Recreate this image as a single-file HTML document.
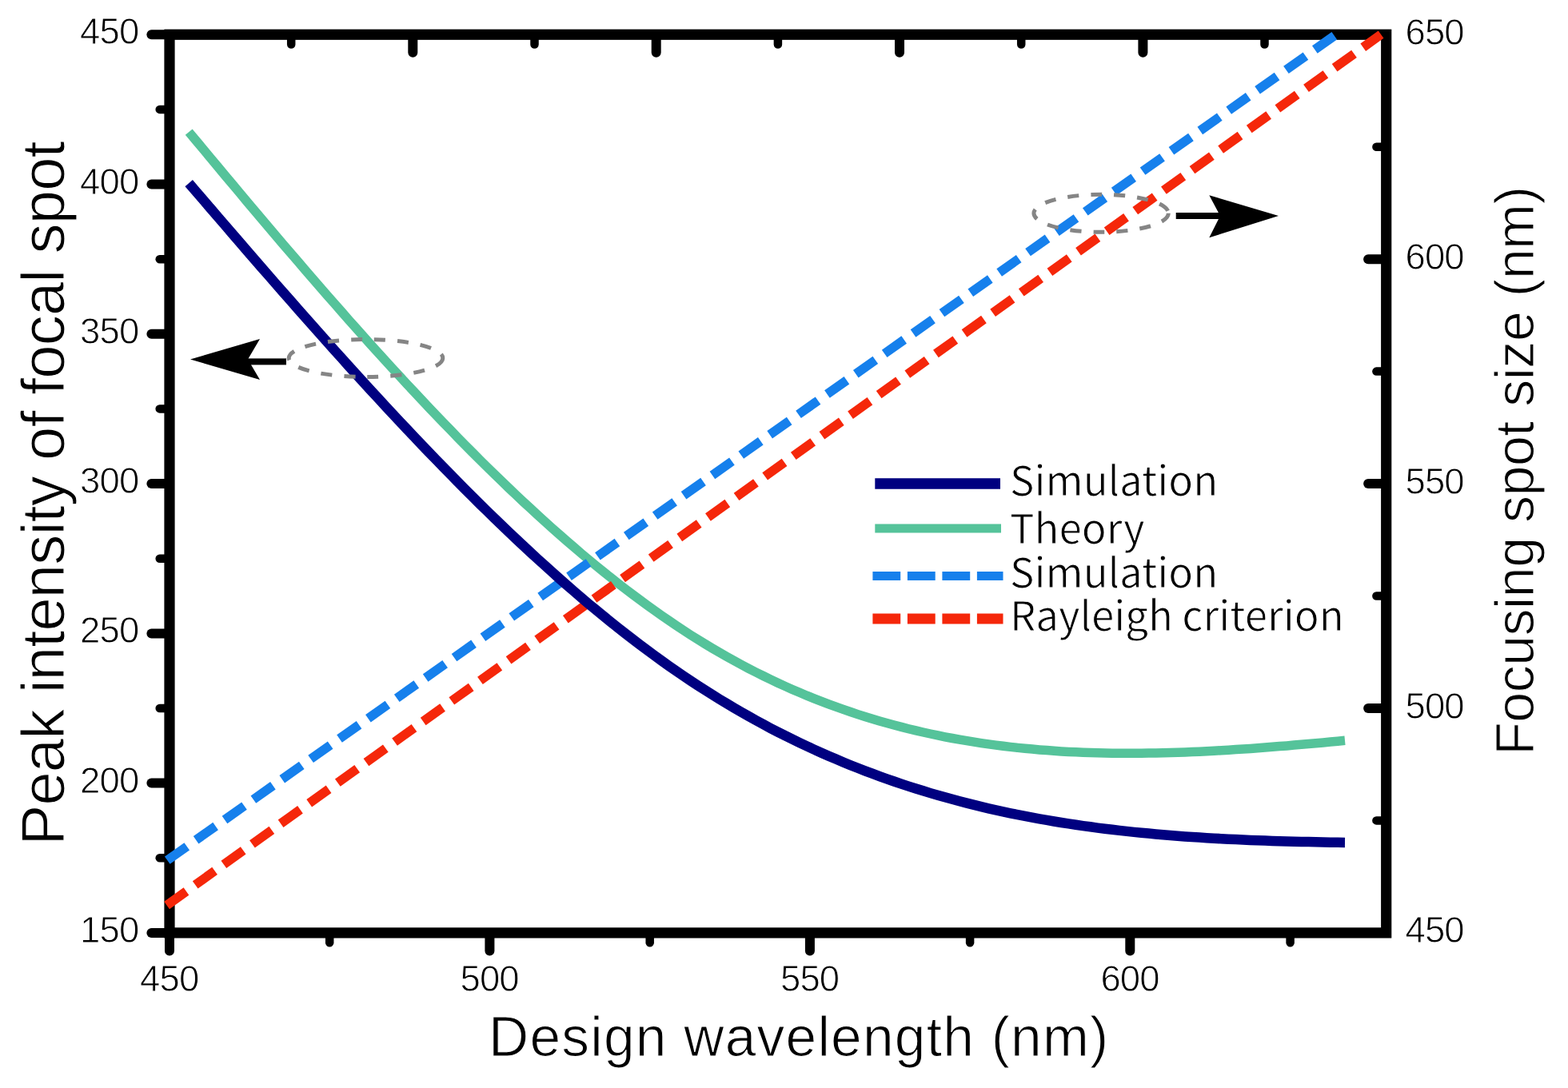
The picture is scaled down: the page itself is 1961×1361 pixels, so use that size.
<!DOCTYPE html>
<html><head><meta charset="utf-8"><style>
html,body{margin:0;padding:0;background:#fff;}
body{width:1961px;height:1361px;overflow:hidden;position:relative;}
svg{position:absolute;left:0;top:0;}
.t{font-family:"Liberation Sans",Arial,sans-serif;fill:#000;}
.ti{stroke:#fff;stroke-width:1.1px;}
.tl{stroke:#fff;stroke-width:0.9px;}
</style></head><body>
<svg width="1961" height="1361" viewBox="0 0 1961 1361">
<rect width="1961" height="1361" fill="#fff"/>
<!-- arrows -->
<g fill="#000">
<rect x="309" y="448.4" width="49" height="8"/>
<polygon points="238,449.5 325,424 310,449.5 325,475"/>
<rect x="1470.7" y="266" width="56" height="8"/>
<polygon points="1599,270 1512.3,244.3 1526,270 1512.3,297.2"/>
</g>
<!-- axes -->
<g stroke="#000" fill="none">
<rect x="212.0" y="43.25" width="1521.7" height="1123.65" stroke-width="13.2"/>
<line x1="212.0" y1="1172.5" x2="212.0" y2="1189.5" stroke-width="12" stroke-linecap="round"/><line x1="412.2" y1="1172.5" x2="412.2" y2="1179.2" stroke-width="10.5" stroke-linecap="round"/><line x1="612.4" y1="1172.5" x2="612.4" y2="1189.5" stroke-width="12" stroke-linecap="round"/><line x1="812.7" y1="1172.5" x2="812.7" y2="1179.2" stroke-width="10.5" stroke-linecap="round"/><line x1="1012.9" y1="1172.5" x2="1012.9" y2="1189.5" stroke-width="12" stroke-linecap="round"/><line x1="1213.1" y1="1172.5" x2="1213.1" y2="1179.2" stroke-width="10.5" stroke-linecap="round"/><line x1="1413.3" y1="1172.5" x2="1413.3" y2="1189.5" stroke-width="12" stroke-linecap="round"/><line x1="1613.6" y1="1172.5" x2="1613.6" y2="1179.2" stroke-width="10.5" stroke-linecap="round"/><line x1="364.2" y1="48.9" x2="364.2" y2="55.6" stroke-width="10.5" stroke-linecap="round"/><line x1="516.3" y1="48.9" x2="516.3" y2="65.8" stroke-width="12" stroke-linecap="round"/><line x1="668.5" y1="48.9" x2="668.5" y2="55.6" stroke-width="10.5" stroke-linecap="round"/><line x1="820.7" y1="48.9" x2="820.7" y2="65.8" stroke-width="12" stroke-linecap="round"/><line x1="972.9" y1="48.9" x2="972.9" y2="55.6" stroke-width="10.5" stroke-linecap="round"/><line x1="1125.0" y1="48.9" x2="1125.0" y2="65.8" stroke-width="12" stroke-linecap="round"/><line x1="1277.2" y1="48.9" x2="1277.2" y2="55.6" stroke-width="10.5" stroke-linecap="round"/><line x1="1429.4" y1="48.9" x2="1429.4" y2="65.8" stroke-width="12" stroke-linecap="round"/><line x1="1581.5" y1="48.9" x2="1581.5" y2="55.6" stroke-width="10.5" stroke-linecap="round"/><line x1="206.4" y1="43.2" x2="189.4" y2="43.2" stroke-width="12" stroke-linecap="round"/><line x1="206.4" y1="136.9" x2="199.7" y2="136.9" stroke-width="10.5" stroke-linecap="round"/><line x1="206.4" y1="230.5" x2="189.4" y2="230.5" stroke-width="12" stroke-linecap="round"/><line x1="206.4" y1="324.2" x2="199.7" y2="324.2" stroke-width="10.5" stroke-linecap="round"/><line x1="206.4" y1="417.8" x2="189.4" y2="417.8" stroke-width="12" stroke-linecap="round"/><line x1="206.4" y1="511.4" x2="199.7" y2="511.4" stroke-width="10.5" stroke-linecap="round"/><line x1="206.4" y1="605.1" x2="189.4" y2="605.1" stroke-width="12" stroke-linecap="round"/><line x1="206.4" y1="698.7" x2="199.7" y2="698.7" stroke-width="10.5" stroke-linecap="round"/><line x1="206.4" y1="792.4" x2="189.4" y2="792.4" stroke-width="12" stroke-linecap="round"/><line x1="206.4" y1="886.0" x2="199.7" y2="886.0" stroke-width="10.5" stroke-linecap="round"/><line x1="206.4" y1="979.6" x2="189.4" y2="979.6" stroke-width="12" stroke-linecap="round"/><line x1="206.4" y1="1073.3" x2="199.7" y2="1073.3" stroke-width="10.5" stroke-linecap="round"/><line x1="206.4" y1="1166.9" x2="189.4" y2="1166.9" stroke-width="12" stroke-linecap="round"/><line x1="1728.1" y1="183.7" x2="1721.4" y2="183.7" stroke-width="10.5" stroke-linecap="round"/><line x1="1728.1" y1="324.2" x2="1711.1" y2="324.2" stroke-width="12" stroke-linecap="round"/><line x1="1728.1" y1="464.6" x2="1721.4" y2="464.6" stroke-width="10.5" stroke-linecap="round"/><line x1="1728.1" y1="605.1" x2="1711.1" y2="605.1" stroke-width="12" stroke-linecap="round"/><line x1="1728.1" y1="745.5" x2="1721.4" y2="745.5" stroke-width="10.5" stroke-linecap="round"/><line x1="1728.1" y1="886.0" x2="1711.1" y2="886.0" stroke-width="12" stroke-linecap="round"/><line x1="1728.1" y1="1026.4" x2="1721.4" y2="1026.4" stroke-width="10.5" stroke-linecap="round"/>
</g>
<!-- data -->
<path d="M236.2,165.1 L245.3,176.0 L254.4,186.9 L263.5,197.9 L272.6,208.8 L281.7,219.7 L290.8,230.5 L299.9,241.4 L308.9,252.2 L318.0,263.0 L327.1,273.8 L336.2,284.5 L345.3,295.2 L354.4,305.9 L363.5,316.5 L372.6,327.1 L381.7,337.7 L390.8,348.2 L399.9,358.7 L409.0,369.2 L418.1,379.5 L427.2,389.9 L436.2,400.2 L445.3,410.4 L454.4,420.6 L463.5,430.8 L472.6,440.9 L481.7,450.9 L490.8,460.8 L499.9,470.7 L509.0,480.6 L518.1,490.3 L527.2,500.0 L536.3,509.7 L545.4,519.2 L554.5,528.7 L563.6,538.1 L572.6,547.4 L581.7,556.7 L590.8,565.9 L599.9,575.0 L609.0,584.0 L618.1,592.9 L627.2,601.7 L636.3,610.5 L645.4,619.1 L654.5,627.7 L663.6,636.1 L672.7,644.5 L681.8,652.7 L690.9,660.9 L699.9,668.9 L709.0,676.9 L718.1,684.7 L727.2,692.5 L736.3,700.1 L745.4,707.6 L754.5,715.0 L763.6,722.3 L772.7,729.5 L781.8,736.5 L790.9,743.4 L800.0,750.2 L809.1,756.9 L818.2,763.4 L827.3,769.9 L836.3,776.1 L845.4,782.3 L854.5,788.3 L863.6,794.2 L872.7,799.9 L881.8,805.5 L890.9,811.0 L900.0,816.3 L909.1,821.5 L918.2,826.6 L927.3,831.5 L936.4,836.3 L945.5,841.0 L954.6,845.5 L963.6,849.9 L972.7,854.2 L981.8,858.4 L990.9,862.4 L1000.0,866.3 L1009.1,870.2 L1018.2,873.8 L1027.3,877.4 L1036.4,880.9 L1045.5,884.2 L1054.6,887.4 L1063.7,890.5 L1072.8,893.6 L1081.9,896.5 L1090.9,899.3 L1100.0,902.0 L1109.1,904.5 L1118.2,907.0 L1127.3,909.4 L1136.4,911.7 L1145.5,913.9 L1154.6,916.0 L1163.7,918.0 L1172.8,919.9 L1181.9,921.8 L1191.0,923.5 L1200.1,925.2 L1209.2,926.7 L1218.3,928.2 L1227.3,929.6 L1236.4,930.9 L1245.5,932.1 L1254.6,933.3 L1263.7,934.4 L1272.8,935.4 L1281.9,936.3 L1291.0,937.1 L1300.1,937.9 L1309.2,938.6 L1318.3,939.3 L1327.4,939.9 L1336.5,940.4 L1345.6,940.8 L1354.6,941.2 L1363.7,941.5 L1372.8,941.8 L1381.9,942.0 L1391.0,942.2 L1400.1,942.3 L1409.2,942.3 L1418.3,942.3 L1427.4,942.3 L1436.5,942.1 L1445.6,942.0 L1454.7,941.8 L1463.8,941.6 L1472.9,941.3 L1482.0,940.9 L1491.0,940.6 L1500.1,940.2 L1509.2,939.7 L1518.3,939.2 L1527.4,938.7 L1536.5,938.2 L1545.6,937.6 L1554.7,937.0 L1563.8,936.4 L1572.9,935.7 L1582.0,935.0 L1591.1,934.3 L1600.2,933.6 L1609.3,932.9 L1618.3,932.1 L1627.4,931.3 L1636.5,930.5 L1645.6,929.7 L1654.7,928.9 L1663.8,928.0 L1672.9,927.2 L1682.0,926.3" fill="none" stroke="#55c39a" stroke-width="11.5"/>
<line x1="205.5" y1="1078.8" x2="1671.0" y2="43.2" stroke="#1680ec" stroke-width="11.5" stroke-dasharray="30 13.93" stroke-dashoffset="-4.6"/>
<line x1="205.5" y1="1134.7" x2="1727.1" y2="43.2" stroke="#f5270a" stroke-width="11.5" stroke-dasharray="30 13.84" stroke-dashoffset="-3.8"/>
<path d="M236.2,229.1 L245.3,239.7 L254.4,250.3 L263.5,260.9 L272.6,271.5 L281.7,282.0 L290.8,292.6 L299.9,303.1 L308.9,313.6 L318.0,324.1 L327.1,334.6 L336.2,345.0 L345.3,355.5 L354.4,365.9 L363.5,376.2 L372.6,386.6 L381.7,396.9 L390.8,407.2 L399.9,417.4 L409.0,427.6 L418.1,437.8 L427.2,447.9 L436.2,458.0 L445.3,468.0 L454.4,478.0 L463.5,488.0 L472.6,497.8 L481.7,507.7 L490.8,517.5 L499.9,527.2 L509.0,536.9 L518.1,546.5 L527.2,556.1 L536.3,565.6 L545.4,575.0 L554.5,584.4 L563.6,593.7 L572.6,602.9 L581.7,612.1 L590.8,621.2 L599.9,630.2 L609.0,639.1 L618.1,648.0 L627.2,656.8 L636.3,665.5 L645.4,674.1 L654.5,682.6 L663.6,691.1 L672.7,699.5 L681.8,707.7 L690.9,715.9 L699.9,724.0 L709.0,732.0 L718.1,739.9 L727.2,747.7 L736.3,755.4 L745.4,762.9 L754.5,770.4 L763.6,777.8 L772.7,785.1 L781.8,792.2 L790.9,799.3 L800.0,806.2 L809.1,813.1 L818.2,819.8 L827.3,826.4 L836.3,832.8 L845.4,839.2 L854.5,845.4 L863.6,851.5 L872.7,857.5 L881.8,863.3 L890.9,869.1 L900.0,874.7 L909.1,880.2 L918.2,885.6 L927.3,890.9 L936.4,896.0 L945.5,901.1 L954.6,906.0 L963.6,910.9 L972.7,915.6 L981.8,920.2 L990.9,924.7 L1000.0,929.1 L1009.1,933.4 L1018.2,937.6 L1027.3,941.7 L1036.4,945.7 L1045.5,949.6 L1054.6,953.4 L1063.7,957.2 L1072.8,960.8 L1081.9,964.3 L1090.9,967.7 L1100.0,971.1 L1109.1,974.3 L1118.2,977.5 L1127.3,980.6 L1136.4,983.6 L1145.5,986.5 L1154.6,989.3 L1163.7,992.1 L1172.8,994.7 L1181.9,997.3 L1191.0,999.8 L1200.1,1002.3 L1209.2,1004.6 L1218.3,1006.9 L1227.3,1009.1 L1236.4,1011.3 L1245.5,1013.3 L1254.6,1015.3 L1263.7,1017.3 L1272.8,1019.1 L1281.9,1020.9 L1291.0,1022.7 L1300.1,1024.3 L1309.2,1025.9 L1318.3,1027.5 L1327.4,1029.0 L1336.5,1030.4 L1345.6,1031.8 L1354.6,1033.1 L1363.7,1034.3 L1372.8,1035.6 L1381.9,1036.7 L1391.0,1037.8 L1400.1,1038.9 L1409.2,1039.9 L1418.3,1040.9 L1427.4,1041.8 L1436.5,1042.6 L1445.6,1043.5 L1454.7,1044.3 L1463.8,1045.0 L1472.9,1045.7 L1482.0,1046.4 L1491.0,1047.0 L1500.1,1047.6 L1509.2,1048.2 L1518.3,1048.7 L1527.4,1049.2 L1536.5,1049.7 L1545.6,1050.1 L1554.7,1050.5 L1563.8,1050.9 L1572.9,1051.2 L1582.0,1051.6 L1591.1,1051.9 L1600.2,1052.2 L1609.3,1052.4 L1618.3,1052.7 L1627.4,1052.9 L1636.5,1053.1 L1645.6,1053.3 L1654.7,1053.5 L1663.8,1053.7 L1672.9,1053.8 L1682.0,1053.9" fill="none" stroke="#000080" stroke-width="12.5"/>
<!-- ellipses -->
<g fill="none" stroke="#858585" stroke-width="5" stroke-dasharray="14 15">
<ellipse cx="457.5" cy="448" rx="96.3" ry="23.5"/>
<ellipse cx="1377.1" cy="266.8" rx="84.2" ry="23.5"/>
</g>
<!-- legend -->
<line x1="1094.3" y1="605" x2="1251" y2="605" stroke="#000080" stroke-width="13.5"/>
<line x1="1094.3" y1="661" x2="1252" y2="661" stroke="#55c39a" stroke-width="11"/>
<line x1="1091.4" y1="720.6" x2="1254.5" y2="720.6" stroke="#1680ec" stroke-width="11" stroke-dasharray="34.8 8.7"/>
<line x1="1091.4" y1="774" x2="1254.5" y2="774" stroke="#f5270a" stroke-width="13" stroke-dasharray="34.8 8.7"/>
<g font-family="'Noto Sans CJK SC',sans-serif" font-size="51" fill="#000" stroke="#fff" stroke-width="0.9">
<text x="1263" y="619.9">Simulation</text>
<text x="1263" y="679.9">Theory</text>
<text x="1263" y="734.8">Simulation</text>
<text x="1263" y="788.9">Rayleigh criterion</text>
</g>
<!-- tick labels -->
<g class="t tl" font-size="45.5">
<text x="211.7" y="1240" text-anchor="middle" letter-spacing="-0.9">450</text><text x="612.1" y="1240" text-anchor="middle" letter-spacing="-0.9">500</text><text x="1012.6" y="1240" text-anchor="middle" letter-spacing="-0.9">550</text><text x="1413.0" y="1240" text-anchor="middle" letter-spacing="-0.9">600</text><text x="173.3" y="55.2" text-anchor="end" letter-spacing="-0.9">450</text><text x="173.3" y="242.5" text-anchor="end" letter-spacing="-0.9">400</text><text x="173.3" y="429.8" text-anchor="end" letter-spacing="-0.9">350</text><text x="173.3" y="617.1" text-anchor="end" letter-spacing="-0.9">300</text><text x="173.3" y="804.4" text-anchor="end" letter-spacing="-0.9">250</text><text x="173.3" y="991.6" text-anchor="end" letter-spacing="-0.9">200</text><text x="173.3" y="1178.9" text-anchor="end" letter-spacing="-0.9">150</text><text x="1757.5" y="55.8" letter-spacing="-0.9">650</text><text x="1757.5" y="336.7" letter-spacing="-0.9">600</text><text x="1757.5" y="617.6" letter-spacing="-0.9">550</text><text x="1757.5" y="898.5" letter-spacing="-0.9">500</text><text x="1757.5" y="1179.4" letter-spacing="-0.9">450</text>
</g>
<!-- axis titles -->
<text class="t ti" x="611" y="1320.7" font-size="69.5" letter-spacing="1.23">Design wavelength (nm)</text>
<text class="t ti" font-size="76" letter-spacing="-0.85" transform="translate(79.8,1057.4) rotate(-90)">Peak intensity of focal spot</text>
<text class="t ti" font-size="68" letter-spacing="-0.45" transform="translate(1917.6,944.8) rotate(-90)">Focusing spot size (nm)</text>
</svg>
</body></html>
